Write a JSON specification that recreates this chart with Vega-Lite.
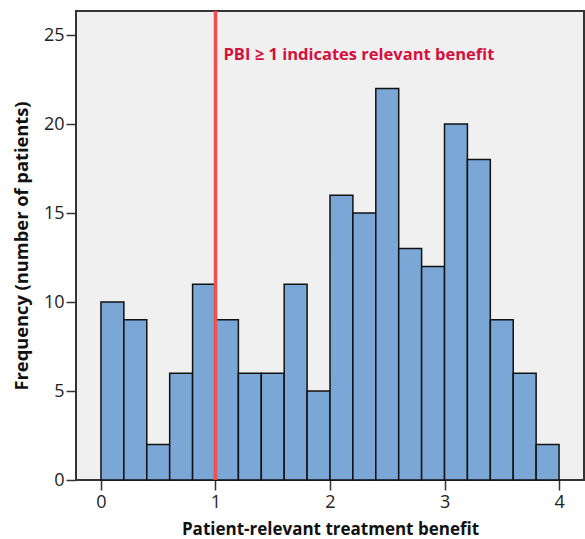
{
  "$schema": "https://vega.github.io/schema/vega-lite/v6.json",
  "width": 508,
  "height": 469,
  "autosize": {"type": "none"},
  "padding": {"left": 76, "top": 11, "right": 1, "bottom": 59},
  "background": "white",
  "config": {
    "view": {"fill": "#f0f0f0", "stroke": "#333333", "strokeWidth": 2},
    "font": "Open Sans",
    "axis": {
      "domain": false,
      "grid": false,
      "tickColor": "#333333",
      "tickWidth": 1.5,
      "tickSize": 10,
      "labelFont": "Open Sans",
      "labelFontSize": 18,
      "labelColor": "#222222",
      "titleFont": "Open Sans",
      "titleFontWeight": "bold",
      "titleColor": "#111111"
    }
  },
  "data": {
    "values": [
      {"start": 0.0, "end": 0.2, "count": 10},
      {"start": 0.2, "end": 0.4, "count": 9},
      {"start": 0.4, "end": 0.6, "count": 2},
      {"start": 0.6, "end": 0.8, "count": 6},
      {"start": 0.8, "end": 1.0, "count": 11},
      {"start": 1.0, "end": 1.2, "count": 9},
      {"start": 1.2, "end": 1.4, "count": 6},
      {"start": 1.4, "end": 1.6, "count": 6},
      {"start": 1.6, "end": 1.8, "count": 11},
      {"start": 1.8, "end": 2.0, "count": 5},
      {"start": 2.0, "end": 2.2, "count": 16},
      {"start": 2.2, "end": 2.4, "count": 15},
      {"start": 2.4, "end": 2.6, "count": 22},
      {"start": 2.6, "end": 2.8, "count": 13},
      {"start": 2.8, "end": 3.0, "count": 12},
      {"start": 3.0, "end": 3.2, "count": 20},
      {"start": 3.2, "end": 3.4, "count": 18},
      {"start": 3.4, "end": 3.6, "count": 9},
      {"start": 3.6, "end": 3.8, "count": 6},
      {"start": 3.8, "end": 4.0, "count": 2}
    ]
  },
  "layer": [
    {
      "mark": {"type": "rect", "fill": "#7aa7d6", "stroke": "#111111", "strokeWidth": 1.5},
      "encoding": {
        "x": {
          "field": "start",
          "type": "quantitative",
          "scale": {"domain": [-0.218, 4.218], "nice": false, "zero": false},
          "axis": {"values": [0, 1, 2, 3, 4], "format": "d", "title": "Patient-relevant treatment benefit", "titleFontSize": 17, "titlePadding": 10, "labelPadding": 3}
        },
        "x2": {"field": "end"},
        "y": {
          "field": "count",
          "type": "quantitative",
          "scale": {"domain": [0, 26.35], "nice": false},
          "axis": {"values": [0, 5, 10, 15, 20, 25], "title": "Frequency (number of patients)", "titleFontSize": 18.3, "titlePadding": 12, "labelPadding": 2}
        },
        "y2": {"datum": 0}
      }
    },
    {
      "data": {"values": [{"x": 1}]},
      "mark": {"type": "rule", "color": "#f0504c", "strokeWidth": 3.5},
      "encoding": {"x": {"field": "x", "type": "quantitative"}}
    },
    {
      "data": {"values": [{"x": 1.07, "y": 23.9, "label": "PBI ≥ 1 indicates relevant benefit"}]},
      "mark": {"type": "text", "align": "left", "baseline": "middle", "color": "#d6103e", "fontWeight": "bold", "fontSize": 16.5, "font": "Open Sans"},
      "encoding": {
        "x": {"field": "x", "type": "quantitative"},
        "y": {"field": "y", "type": "quantitative"},
        "text": {"field": "label"}
      }
    }
  ]
}
